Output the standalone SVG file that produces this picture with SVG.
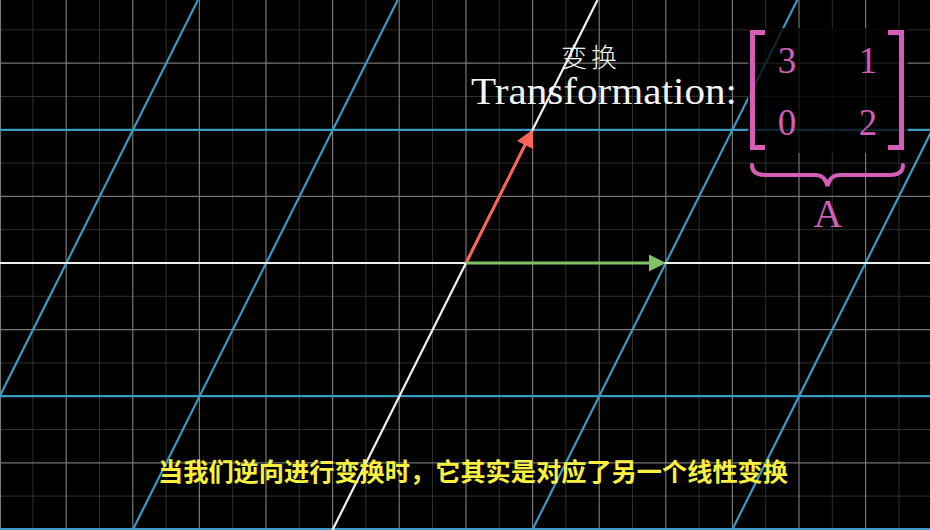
<svg xmlns="http://www.w3.org/2000/svg" width="930" height="530" viewBox="0 0 930 530">
<style>
.minor{stroke:#2e2e2e;stroke-width:1}
.major{stroke:#767676;stroke-width:1.2}
.blue{stroke:#3a9bc2;stroke-width:2.2;fill:none}
.axis{stroke:#f0f0f0;stroke-width:2.2;fill:none}
.mag{fill:#d45eb7;font-family:"Liberation Serif",serif}
.brk{stroke:#d45eb7;stroke-width:5;fill:none}
</style>
<rect width="930" height="530" fill="#000"/>
<g id="background-grid">
<g class="minor">
<line x1="32.9" y1="0" x2="32.9" y2="530"/><line x1="99.5" y1="0" x2="99.5" y2="530"/><line x1="166.1" y1="0" x2="166.1" y2="530"/><line x1="232.7" y1="0" x2="232.7" y2="530"/><line x1="299.3" y1="0" x2="299.3" y2="530"/><line x1="365.9" y1="0" x2="365.9" y2="530"/><line x1="432.5" y1="0" x2="432.5" y2="530"/><line x1="499.3" y1="0" x2="499.3" y2="530"/><line x1="565.9" y1="0" x2="565.9" y2="530"/><line x1="632.5" y1="0" x2="632.5" y2="530"/><line x1="699.1" y1="0" x2="699.1" y2="530"/><line x1="765.7" y1="0" x2="765.7" y2="530"/><line x1="832.3" y1="0" x2="832.3" y2="530"/><line x1="898.9" y1="0" x2="898.9" y2="530"/>
<line x1="0" y1="29.9" x2="930" y2="29.9"/><line x1="0" y1="96.5" x2="930" y2="96.5"/><line x1="0" y1="163.1" x2="930" y2="163.1"/><line x1="0" y1="229.7" x2="930" y2="229.7"/><line x1="0" y1="296.3" x2="930" y2="296.3"/><line x1="0" y1="362.9" x2="930" y2="362.9"/><line x1="0" y1="429.5" x2="930" y2="429.5"/><line x1="0" y1="496.1" x2="930" y2="496.1"/>
</g>
<g class="major">
<line x1="0.5" y1="0" x2="0.5" y2="530"/><line x1="66.2" y1="0" x2="66.2" y2="530"/><line x1="132.8" y1="0" x2="132.8" y2="530"/><line x1="199.4" y1="0" x2="199.4" y2="530"/><line x1="266" y1="0" x2="266" y2="530"/><line x1="332.6" y1="0" x2="332.6" y2="530"/><line x1="399.2" y1="0" x2="399.2" y2="530"/><line x1="466" y1="0" x2="466" y2="530"/><line x1="532.6" y1="0" x2="532.6" y2="530"/><line x1="599.2" y1="0" x2="599.2" y2="530"/><line x1="665.8" y1="0" x2="665.8" y2="530"/><line x1="732.4" y1="0" x2="732.4" y2="530"/><line x1="799" y1="0" x2="799" y2="530"/><line x1="865.6" y1="0" x2="865.6" y2="530"/>
<line x1="0" y1="63.2" x2="930" y2="63.2"/><line x1="0" y1="196.4" x2="930" y2="196.4"/><line x1="0" y1="329.6" x2="930" y2="329.6"/><line x1="0" y1="462.8" x2="930" y2="462.8"/>
</g>
</g>
<g id="transformed-grid">
<g class="blue">
<line x1="0" y1="129.8" x2="930" y2="129.8"/><line x1="0" y1="396.2" x2="930" y2="396.2"/><line x1="0" y1="529" x2="930" y2="529"/>
<line x1="197.9" y1="0" x2="-67.1" y2="530"/><line x1="397.7" y1="0" x2="132.7" y2="530"/><line x1="797.3" y1="0" x2="532.3" y2="530"/><line x1="997.1" y1="0" x2="732.1" y2="530"/>
</g>
<g class="axis">
<line x1="0" y1="263" x2="930" y2="263"/>
<line x1="597.5" y1="0" x2="332.5" y2="530"/>
</g>
</g>
<g id="connectors">
<g id="vector-j">
<line x1="466" y1="263" x2="525" y2="145" stroke="#fc6255" stroke-width="3"/>
<polygon points="532.6,129.8 533.1,149 517,141" fill="#fc6255"/>
</g>
<g id="vector-i">
<line x1="466" y1="263" x2="650" y2="263" stroke="#83c167" stroke-width="3"/>
<polygon points="665.8,263 649,254.5 649,271.5" fill="#83c167"/>
</g>
</g>
<g id="label">
<text x="561" y="67" font-family="'Noto Sans CJK SC',sans-serif" font-size="26" font-weight="300" letter-spacing="4" fill="#f4f4f4">变换</text>
<text x="471" y="104" font-family="'Liberation Serif',serif" font-size="38" fill="#f4f4f4" textLength="266" lengthAdjust="spacingAndGlyphs">Transformation:</text>
</g>
<g id="matrix">
<rect x="748" y="28" width="160" height="125" fill="#000" fill-opacity="0.75"/>
<path class="brk" d="M765,32.5 H752.5 V147.5 H765"/>
<path class="brk" d="M888,32.5 H901.5 V147.5 H888"/>
<g class="mag" font-size="37" text-anchor="middle">
<text x="787" y="73">3</text><text x="868" y="73">1</text>
<text x="787" y="135">0</text><text x="868" y="135">2</text>
</g>
<path d="M752,165 C752,172 757,175 765,175 H815 C822,175 826,179 827.5,186 C829,179 833,175 840,175 H890 C898,175 903,172 903,165" stroke="#d45eb7" stroke-width="4" fill="none" stroke-linecap="round"/>
<text class="mag" x="828" y="227" font-size="40" text-anchor="middle">A</text>
</g>
<g id="subtitle">
<text x="158" y="481" font-family="'Noto Sans CJK SC',sans-serif" font-size="25" font-weight="bold" fill="#f8f03e" textLength="630" lengthAdjust="spacingAndGlyphs">当我们逆向进行变换时，它其实是对应了另一个线性变换</text>
</g>
</svg>
